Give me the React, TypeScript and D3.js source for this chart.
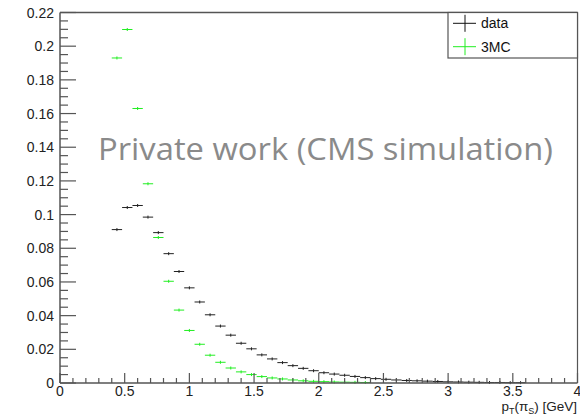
import React from 'react';
import * as d3 from 'd3';

const W = 580;
const H = 418;

// bin centres (width 0.08) and normalised contents
const binWidth = 0.08;
const dataCenters = [
  0.44, 0.52, 0.6, 0.68, 0.76, 0.84, 0.92, 1.0, 1.08, 1.16, 1.24, 1.32, 1.4, 1.48, 1.56, 1.64, 1.72, 1.8, 1.88,
  1.96, 2.04, 2.12, 2.2, 2.28, 2.36, 2.44, 2.52, 2.6, 2.68, 2.76, 2.84, 2.92, 3.0, 3.08, 3.16, 3.24, 3.32, 3.4,
  3.48, 3.56,
];
const dataValues = [
  0.0911, 0.1042, 0.1054, 0.0985, 0.0893, 0.0768, 0.0662, 0.0565, 0.0481, 0.0405, 0.0338, 0.0284, 0.0236, 0.0203,
  0.0167, 0.0143, 0.0121, 0.0103, 0.0087, 0.0073, 0.0061, 0.0053, 0.0046, 0.0039, 0.0032, 0.0026, 0.0022, 0.0018,
  0.0015, 0.0013, 0.0011, 0.0009, 0.0007, 0.0006, 0.0005, 0.0004, 0.0003, 0.0003, 0.0002, 0.0002,
];
const mcCenters = [
  0.44, 0.52, 0.6, 0.68, 0.76, 0.84, 0.92, 1.0, 1.08, 1.16, 1.24, 1.32, 1.4, 1.48, 1.56, 1.64, 1.72, 1.8, 1.88,
  1.96, 2.04, 2.12, 2.2, 2.28, 2.36,
];
const mcValues = [
  0.193, 0.2099, 0.163, 0.1183, 0.0864, 0.0604, 0.0433, 0.0312, 0.023, 0.0165, 0.0123, 0.0089, 0.0066, 0.005,
  0.0038, 0.003, 0.0024, 0.0018, 0.0013, 0.001, 0.0008, 0.0006, 0.0005, 0.0004, 0.0003,
];

const xMajor = [0, 0.5, 1, 1.5, 2, 2.5, 3, 3.5, 4];
const xLabels = ['0', '0.5', '1', '1.5', '2', '2.5', '3', '3.5', '4'];
const yMajor = [0, 0.02, 0.04, 0.06, 0.08, 0.1, 0.12, 0.14, 0.16, 0.18, 0.2, 0.22];
const yLabels = ['0', '0.02', '0.04', '0.06', '0.08', '0.1', '0.12', '0.14', '0.16', '0.18', '0.2', '0.22'];

const legendItems = [
  { label: 'data', color: '#111' },
  { label: '3MC', color: '#22ee22' },
];

const M = { left: 60, right: 577.5, top: 12.5, bottom: 383 };
const AXIS = '#555';
const FONT = '"Liberation Sans", Arial, sans-serif';

export default function App() {
  const x = d3.scaleLinear().domain([0, 4]).range([M.left, M.right]);
  const y = d3.scaleLinear().domain([0, 0.22]).range([M.bottom, M.top]);

  const xMinor = d3.range(0, 4.0001, 0.1).filter((v) => Math.abs(v * 2 - Math.round(v * 2)) > 1e-6);
  const yMinor = d3.range(0, 0.2201, 0.005).filter((v) => Math.abs(v * 50 - Math.round(v * 50)) > 1e-6);

  const hist = (centers: number[], values: number[], color: string) =>
    centers.map((c, i) => (
      <g key={i} stroke={color} strokeWidth={1}>
        <line x1={x(c - binWidth / 2)} x2={x(c + binWidth / 2)} y1={y(values[i])} y2={y(values[i])} />
        <line x1={x(c)} x2={x(c)} y1={y(values[i]) - 1.5} y2={y(values[i]) + 1.5} />
      </g>
    ));

  return (
    <svg width={W} height={H} style={{ position: 'fixed', left: 0, top: 0, background: '#fff' }}>
      <rect width={W} height={H} fill="#fff" />

      {/* frame */}
      <line x1={M.left} x2={M.right} y1={M.top} y2={M.top} stroke={AXIS} strokeWidth={1.5} />
      <line x1={M.right} x2={M.right} y1={M.top} y2={M.bottom} stroke={AXIS} strokeWidth={1.2} />

      {hist(dataCenters, dataValues, '#222')}
      {hist(mcCenters, mcValues, '#22ee22')}

      {/* x axis */}
      <line x1={M.left} x2={M.right} y1={M.bottom} y2={M.bottom} stroke={AXIS} strokeWidth={1.5} />
      {xMajor.map((v) => (
        <line key={'xM' + v} x1={x(v)} x2={x(v)} y1={M.bottom} y2={M.bottom - 10} stroke={AXIS} strokeWidth={1.2} />
      ))}
      {xMinor.map((v) => (
        <line key={'xm' + v} x1={x(v)} x2={x(v)} y1={M.bottom} y2={M.bottom - 5} stroke={AXIS} strokeWidth={1.2} />
      ))}
      {xMajor.map((v, i) => (
        <text key={'xl' + v} x={x(v)} y={396} textAnchor="middle" fontFamily={FONT} fontSize={14} fill="#222">
          {xLabels[i]}
        </text>
      ))}
      <text x={577} y={411} textAnchor="end" fontFamily={FONT} fontSize={13.5} fill="#222">
        p<tspan fontSize={9} dy={3}>T</tspan>
        <tspan dy={-3}>(π</tspan>
        <tspan fontSize={9} dy={3}>S</tspan>
        <tspan dy={-3}>) [GeV]</tspan>
      </text>

      {/* y axis */}
      <line x1={M.left} x2={M.left} y1={M.top} y2={M.bottom} stroke={AXIS} strokeWidth={1.5} />
      {yMajor.map((v) => (
        <line key={'yM' + v} x1={M.left} x2={M.left + 16} y1={y(v)} y2={y(v)} stroke={AXIS} strokeWidth={1.2} />
      ))}
      {yMinor.map((v) => (
        <line key={'ym' + v} x1={M.left} x2={M.left + 8} y1={y(v)} y2={y(v)} stroke={AXIS} strokeWidth={1.2} />
      ))}
      {yMajor.map((v, i) => (
        <text
          key={'yl' + v}
          x={54}
          y={y(v)}
          dy="0.36em"
          textAnchor="end"
          fontFamily={FONT}
          fontSize={14}
          fill="#222"
        >
          {yLabels[i]}
        </text>
      ))}

      {/* legend */}
      <rect x={448} y={M.top} width={129.5} height={45.5} fill="#fff" stroke={AXIS} strokeWidth={1.2} />
      {legendItems.map((d, i) => {
        const cy = 23.3 + i * 23.4;
        return (
          <g key={d.label}>
            <line x1={453} x2={476} y1={cy} y2={cy} stroke={d.color} strokeWidth={1} />
            <line x1={465} x2={465} y1={cy - 8.5} y2={cy + 8.5} stroke={d.color} strokeWidth={1} />
            <text x={481} y={cy + 5} fontFamily={FONT} fontSize={14} fill="#111">
              {d.label}
            </text>
          </g>
        );
      })}

      {/* overlay label */}
      <text
        x={98}
        y={160}
        fontFamily='"Open Sans", sans-serif'
        fontSize={31}
        fill="#8a8a8a"
        textLength={455}
        lengthAdjust="spacingAndGlyphs"
      >
        Private work (CMS simulation)
      </text>
    </svg>
  );
}
